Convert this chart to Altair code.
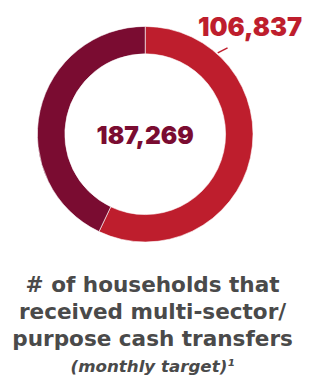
import altair as alt
import pandas as pd

categories = ["Received", "Remaining"]
values = [106837, 187269 - 106837]
order = [1, 2]
colors = ["#be1e2d", "#7a0c31"]
total_label = "187,269"
received_label = "106,837"
title_lines = ["# of households that", "received multi-sector/", "purpose cash transfers"]
subtitle_text = "(monthly target)\u00b9"

df = pd.DataFrame({"category": categories, "value": values, "order": order})

W, H = 295, 250
cx, cy = 140, 125

arc = alt.Chart(df).mark_arc(outerRadius=110, innerRadius=82, stroke="white", strokeWidth=0.6).encode(
    theta=alt.Theta("value:Q", stack=True),
    order=alt.Order("order:Q"),
    color=alt.Color("category:N", scale=alt.Scale(domain=categories, range=colors), legend=None),
    x=alt.value(cx),
    y=alt.value(cy),
)

center = alt.Chart(pd.DataFrame({"t": [total_label]})).mark_text(
    font="Inter", fontWeight=900, fontSize=25, color="#7a0c31", align="center", baseline="alphabetic"
).encode(text="t:N", x=alt.value(cx), y=alt.value(cy + 10))

label = alt.Chart(pd.DataFrame({"t": [received_label]})).mark_text(
    font="Inter", fontWeight=900, fontSize=26, color="#be1e2d", align="center", baseline="alphabetic"
).encode(text="t:N", x=alt.value(247), y=alt.value(25))

leader = alt.Chart(pd.DataFrame({"t": [received_label]})).mark_rule(color="#be1e2d", strokeWidth=1.5).encode(
    x=alt.value(214), y=alt.value(42), x2=alt.value(224), y2=alt.value(37)
)

chart = alt.layer(arc, leader, center, label).properties(
    width=W,
    height=H,
    padding={"left": 0, "top": 0, "right": 0, "bottom": 0},
    title=alt.TitleParams(
        text=title_lines,
        subtitle=subtitle_text,
        orient="bottom",
        anchor="middle",
        font="DejaVu Sans",
        fontSize=22,
        fontWeight="bold",
        color="#4a4a4a",
        lineHeight=27.5,
        offset=19,
        subtitleFont="DejaVu Sans",
        subtitleFontSize=17,
        subtitleFontStyle="italic",
        subtitleFontWeight="bold",
        subtitleColor="#4a4a4a",
        subtitlePadding=9,
        subtitleLineHeight=19,
    ),
).configure_view(stroke=None)

chart.save("out.html", embed_options={"renderer": "svg", "actions": False})
